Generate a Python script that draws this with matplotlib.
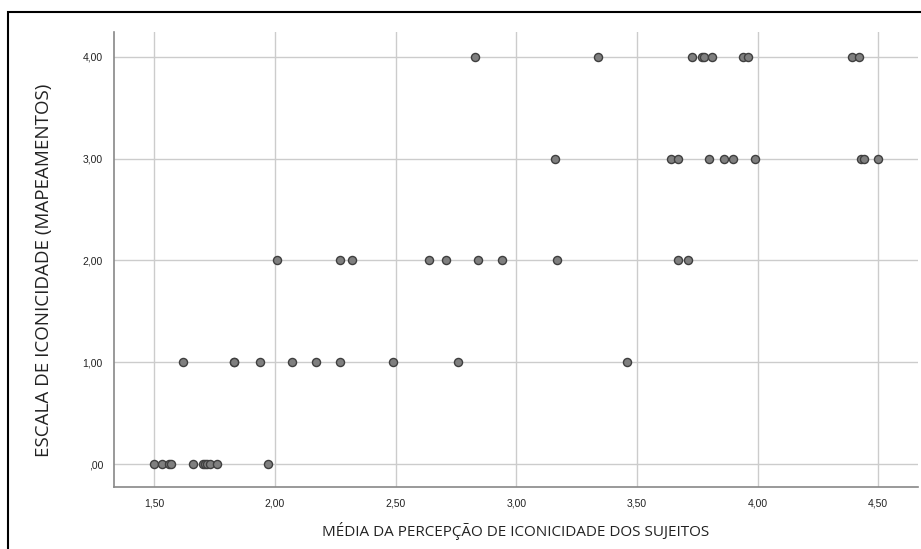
import matplotlib.pyplot as plt
from matplotlib.patches import Rectangle
from matplotlib.ticker import FuncFormatter

# media da percepcao (x) por nivel da escala (y)
x_nivel0 = [1.50, 1.53, 1.56, 1.57, 1.66, 1.70, 1.71, 1.72, 1.73, 1.76, 1.97]
x_nivel1 = [1.62, 1.83, 1.83, 1.94, 2.07, 2.17, 2.27, 2.49, 2.76, 3.46]
x_nivel2 = [2.01, 2.27, 2.32, 2.64, 2.71, 2.84, 2.94, 3.17, 3.67, 3.71]
x_nivel3 = [3.16, 3.64, 3.67, 3.80, 3.86, 3.90, 3.99, 4.43, 4.44, 4.50]
x_nivel4 = [2.83, 3.34, 3.73, 3.77, 3.78, 3.81, 3.94, 3.96, 4.39, 4.42]
niveis = [0, 1, 2, 3, 4]

x_ticks = [1.5, 2.0, 2.5, 3.0, 3.5, 4.0, 4.5]

xs, ys = [], []
for nivel, vals in zip(niveis, [x_nivel0, x_nivel1, x_nivel2, x_nivel3, x_nivel4]):
    xs += vals
    ys += [nivel] * len(vals)


def fmt_br(v, pos):
    s = f"{v:.2f}".replace(".", ",")
    if s.startswith("0,"):
        s = s[1:]
    return s


fig = plt.figure(figsize=(9.21, 5.49), dpi=100)
ax = fig.add_axes([0.1238, 0.1129, 0.8730, 0.8288])

ax.scatter(xs, ys, s=34, facecolor="#7f7f7f", edgecolor="#3f3f3f",
           linewidth=1.0, zorder=3)

ax.set_xlim(1.333, 4.665)
ax.set_ylim(-0.226, 4.245)
ax.set_xticks(x_ticks)
ax.set_yticks(niveis)
ax.xaxis.set_major_formatter(FuncFormatter(fmt_br))
ax.yaxis.set_major_formatter(FuncFormatter(fmt_br))
ax.grid(True, color="#cccccc", linewidth=1.0, zorder=0)
ax.tick_params(length=0, labelsize=7.5, colors="#222222", pad=8)
for lab in ax.get_xticklabels() + ax.get_yticklabels():
    lab.set_fontfamily("Liberation Sans")
for sp in ["top", "right"]:
    ax.spines[sp].set_visible(False)
for sp in ["left", "bottom"]:
    ax.spines[sp].set_color("#888888")
    ax.spines[sp].set_linewidth(1.2)

ax.set_xlabel("MÉDIA DA PERCEPÇÃO DE ICONICIDADE DOS SUJEITOS",
              fontfamily="Open Sans", fontsize=11, color="#222222", labelpad=10)
ax.set_ylabel("ESCALA DE ICONICIDADE (MAPEAMENTOS)",
              fontfamily="Open Sans", fontsize=13.5, color="#222222")
ax.yaxis.set_label_coords(-0.076, 0.477)

# moldura preta recortada
fig.patches.append(Rectangle((8 / 921, -0.1), 1.2, (549 - 12) / 549 + 0.1,
                             transform=fig.transFigure, fill=False,
                             edgecolor="black", linewidth=1.5))

fig.savefig("out.png", dpi=100)
